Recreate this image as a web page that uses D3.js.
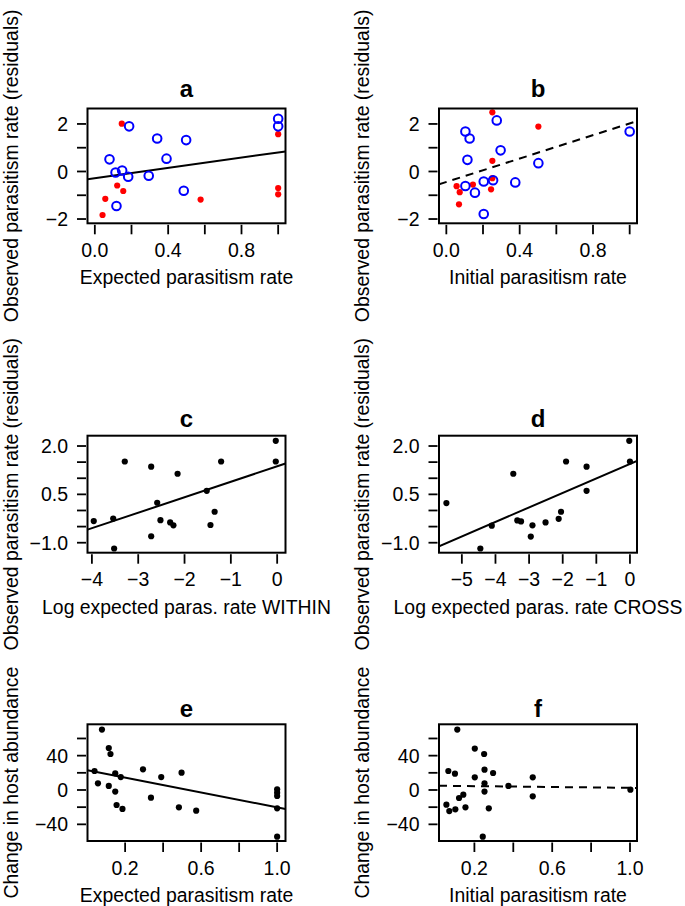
<!DOCTYPE html>
<html>
<head>
<meta charset="utf-8">
<script src="https://cdn.jsdelivr.net/npm/d3@7"></script>
<style>
  html, body { margin: 0; padding: 0; background: #fff; }
  svg { display: block; }
  text { font-family: "Liberation Sans", Arial, Helvetica, sans-serif; fill: #000; }
</style>
</head>
<body>
<svg id="chart" width="685" height="906"></svg>
<script>
// ---------------- DATA ----------------
// Panel a: Expected parasitism rate vs observed parasitism residuals
const aRedX  = [0.147, 1.0, 0.122, 0.155, 0.057, 0.042, 0.577, 1.0, 1.0];
const aRedY  = [2.01, 1.57, -0.59, -0.82, -1.15, -1.83, -1.18, -0.70, -0.96];
const aBlueX = [0.187, 1.0, 1.0, 0.340, 0.498, 0.391, 0.080, 0.113, 0.149, 0.182, 0.294, 0.485, 0.118];
const aBlueY = [1.90, 2.22, 1.90, 1.39, 1.32, 0.54, 0.51, -0.04, 0.04, -0.22, -0.18, -0.81, -1.45];
const aLine  = [-0.28, 1.08];   // intercept, slope (solid)

// Panel b: Initial parasitism rate
const bRedX  = [0.251, 0.502, 0.251, 0.251, 0.244, 0.056, 0.073, 0.145, 0.069];
const bRedY  = [2.49, 1.89, 0.45, -0.28, -0.75, -0.62, -0.87, -0.55, -1.38];
const bBlueX = [0.104, 0.127, 0.275, 0.115, 0.296, 0.502, 1.0, 0.104, 0.156, 0.204, 0.255, 0.376, 0.204];
const bBlueY = [1.68, 1.39, 2.15, 0.49, 0.89, 0.35, 1.68, -0.61, -0.89, -0.42, -0.37, -0.46, -1.79];
const bLine  = [-0.44, 2.46];   // intercept, slope (dashed)

// Panel c: Log expected paras. rate WITHIN
const cX = [-3.96, -3.54, -3.52, -3.29, -2.72, -2.72, -2.59, -2.52, -2.31, -2.24, -2.15, -1.52, -1.44, -1.35, -1.21, -0.03, -0.03];
const cY = [-0.33, -0.25, -1.18, 1.52, 1.36, -0.80, 0.24, -0.30, -0.37, -0.46, 1.14, 0.61, -0.45, -0.04, 1.52, 2.16, 1.52];
const cLine = [1.37, 0.48];

// Panel d: Log expected paras. rate CROSS
const dX = [-5.46, -4.45, -4.11, -3.47, -3.35, -3.24, -2.90, -2.95, -2.51, -2.12, -2.05, -1.90, -1.29, -1.29, -0.02, 0.0];
const dY = [0.23, -1.18, -0.47, 1.14, -0.31, -0.34, -0.46, -0.81, -0.37, -0.26, -0.04, 1.52, 1.36, 0.61, 2.16, 1.52];
const dLine = [1.445, 0.45];

// Panel e: Expected parasitism rate vs change in host abundance
const eX = [0.078, 0.114, 0.123, 0.039, 0.057, 0.114, 0.148, 0.148, 0.177, 0.155, 0.186, 0.294, 0.390, 0.336, 0.497, 0.483, 0.574, 1.0, 1.0, 1.0, 1.0, 1.0];
const eY = [70.3, 48.9, 41.9, 22.1, 7.8, 4.7, 19.4, -1.9, 15.1, -17.5, -22.1, 24.1, 15.1, -8.9, 20.2, -20.2, -24.1, 0.8, -3.1, -7.0, -21.4, -54.4];
const eLine = [23.0, -43.2];

// Panel f: Initial parasitism rate vs change in host abundance
const fX = [0.112, 0.202, 0.250, 0.066, 0.100, 0.202, 0.252, 0.252, 0.296, 0.252, 0.375, 0.500, 0.500, 1.002, 0.056, 0.071, 0.102, 0.121, 0.143, 0.154, 0.274, 0.243];
const fY = [70.3, 48.2, 41.9, 22.1, 19.0, 14.8, 23.7, 7.8, 19.8, -1.9, 4.7, 14.8, -7.4, 0.4, -17.1, -24.5, -22.5, -9.3, -5.4, -20.2, -21.4, -54.4];
const fLine = [5.0, -2.5];

// Axis ticks and labels
const ticksResidA   = [-2, -1, 0, 1, 2];
const labelsResidA  = [-2, 0, 2];
const ticksRate     = [0, 0.2, 0.4, 0.6, 0.8, 1.0];
const labelsRate    = [0, 0.4, 0.8];
const ticksResidC   = [-1.0, -0.5, 0, 0.5, 1.0, 1.5, 2.0];
const labelsResidC  = [-1.0, 0.5, 2.0];
const ticksWithin   = [-4, -3, -2, -1, 0];
const ticksCross    = [-5, -4, -3, -2, -1, 0];
const ticksAbund    = [-40, -20, 0, 20, 40, 60];
const labelsAbund   = [-40, 0, 40];
const ticksRateE    = [0.2, 0.4, 0.6, 0.8, 1.0];
const labelsRateE   = [0.2, 0.6, 1.0];

const panelLetters = ["a", "b", "c", "d", "e", "f"];
const xTitles = ["Expected parasitism rate", "Initial parasitism rate",
                 "Log expected paras. rate WITHIN", "Log expected paras. rate CROSS",
                 "Expected parasitism rate", "Initial parasitism rate"];
const yTitleResid = "Observed parasitism rate (residuals)";
const yTitleAbund = "Change in host abundance";

// ---------------- DRAWING ----------------
const svg = d3.select("#chart");
const RED = "#ff0000", BLUE = "#0000ff";
const FS = 19.5, TITLE_FS = 24;
const minus = s => s.replace(/-/g, "\u2212");

const colLeft  = [87.5, 285.5];
const colRight = [439, 637];
const rows = [[108.5, 223.3, 96.5], [435.7, 552.7, 427], [724.3, 841, 716.5]];

function fmt1(v){ return minus(d3.format(".1f")(v)); }
function fmt0(v){ return minus(d3.format("d")(v)); }

const panels = [
  { col: colLeft,  row: rows[0], xd: [-0.04, 1.04], yd: [-2.18, 2.65],
    xt: ticksRate, xl: labelsRate, xf: fmt1, yt: ticksResidA, yl: labelsResidA, yf: fmt0,
    series: [{x: aRedX, y: aRedY, type: "red"}, {x: aBlueX, y: aBlueY, type: "blue"}],
    line: aLine, dashed: false, ytitle: yTitleResid },
  { col: colRight, row: rows[0], xd: [-0.04, 1.04], yd: [-2.18, 2.65],
    xt: ticksRate, xl: labelsRate, xf: fmt1, yt: ticksResidA, yl: labelsResidA, yf: fmt0,
    series: [{x: bRedX, y: bRedY, type: "red"}, {x: bBlueX, y: bBlueY, type: "blue"}],
    line: bLine, dashed: true, ytitle: yTitleResid },
  { col: colLeft,  row: rows[1], xd: [-4.095, 0.18], yd: [-1.31, 2.32],
    xt: ticksWithin, xl: ticksWithin, xf: fmt0, yt: ticksResidC, yl: labelsResidC, yf: fmt1,
    series: [{x: cX, y: cY, type: "black"}], line: cLine, dashed: false, ytitle: yTitleResid },
  { col: colRight, row: rows[1], xd: [-5.68, 0.21], yd: [-1.31, 2.32],
    xt: ticksCross, xl: ticksCross, xf: fmt0, yt: ticksResidC, yl: labelsResidC, yf: fmt1,
    series: [{x: dX, y: dY, type: "black"}], line: dLine, dashed: false, ytitle: yTitleResid },
  { col: colLeft,  row: rows[2], xd: [0.002, 1.044], yd: [-59.4, 76.5],
    xt: ticksRateE, xl: labelsRateE, xf: fmt1, yt: ticksAbund, yl: labelsAbund, yf: fmt0,
    series: [{x: eX, y: eY, type: "black"}], line: eLine, dashed: false, ytitle: yTitleAbund },
  { col: colRight, row: rows[2], xd: [0.018, 1.036], yd: [-59.4, 76.5],
    xt: ticksRateE, xl: labelsRateE, xf: fmt1, yt: ticksAbund, yl: labelsAbund, yf: fmt0,
    series: [{x: fX, y: fY, type: "black"}], line: fLine, dashed: true, ytitle: yTitleAbund }
];

panels.forEach((p, i) => {
  const [x0, x1] = p.col;
  const [y0, y1, titleY] = p.row;
  const xs = d3.scaleLinear().domain(p.xd).range([x0, x1]);
  const ys = d3.scaleLinear().domain(p.yd).range([y1, y0]);
  const g = svg.append("g");
  const clipId = "clip" + i;
  g.append("clipPath").attr("id", clipId).append("rect")
    .attr("x", x0).attr("y", y0).attr("width", x1 - x0).attr("height", y1 - y0);

  // regression line
  const lx = p.xd;
  g.append("line")
    .attr("clip-path", `url(#${clipId})`)
    .attr("x1", xs(lx[0])).attr("y1", ys(p.line[0] + p.line[1] * lx[0]))
    .attr("x2", xs(lx[1])).attr("y2", ys(p.line[0] + p.line[1] * lx[1]))
    .attr("stroke", "#000").attr("stroke-width", 2)
    .attr("stroke-dasharray", p.dashed ? "8,6" : null);

  // points
  p.series.forEach(s => {
    const pts = s.x.map((v, k) => [v, s.y[k]]);
    const sel = g.append("g").selectAll("circle").data(pts).join("circle")
      .attr("cx", d => xs(d[0])).attr("cy", d => ys(d[1]));
    if (s.type === "blue") {
      sel.attr("r", 4.3).attr("fill", "none").attr("stroke", BLUE).attr("stroke-width", 2);
    } else if (s.type === "red") {
      sel.attr("r", 3.1).attr("fill", RED);
    } else {
      sel.attr("r", 3.1).attr("fill", "#000");
    }
  });

  // box
  g.append("rect").attr("x", x0).attr("y", y0).attr("width", x1 - x0).attr("height", y1 - y0)
    .attr("fill", "none").attr("stroke", "#000").attr("stroke-width", 2);

  // x axis ticks
  g.append("g").selectAll("line").data(p.xt).join("line")
    .attr("x1", d => xs(d)).attr("x2", d => xs(d))
    .attr("y1", y1 + 1.5).attr("y2", y1 + 11)
    .attr("stroke", "#000").attr("stroke-width", 1.8);
  g.append("g").selectAll("text").data(p.xl).join("text")
    .attr("x", d => xs(d)).attr("y", y1 + 33.5)
    .attr("text-anchor", "middle").attr("font-size", FS)
    .text(d => p.xf(d));

  // y axis ticks
  g.append("g").selectAll("line").data(p.yt).join("line")
    .attr("y1", d => ys(d)).attr("y2", d => ys(d))
    .attr("x1", x0 - 1.5).attr("x2", x0 - 10.5)
    .attr("stroke", "#000").attr("stroke-width", 1.8);
  g.append("g").selectAll("text").data(p.yl).join("text")
    .attr("x", x0 - 19.5).attr("y", d => ys(d))
    .attr("dy", "0.36em")
    .attr("text-anchor", "end").attr("font-size", FS)
    .text(d => p.yf(d));

  // panel letter
  g.append("text").attr("x", (x0 + x1) / 2).attr("y", titleY)
    .attr("text-anchor", "middle").attr("font-size", TITLE_FS).attr("font-weight", "bold")
    .text(panelLetters[i]);

  // x title
  g.append("text").attr("x", (x0 + x1) / 2).attr("y", y1 + 61)
    .attr("text-anchor", "middle").attr("font-size", 19.4)
    .text(xTitles[i]);

  // y title
  const tx = x0 - 70, ty = (y0 + y1) / 2;
  g.append("text").attr("transform", `translate(${tx},${ty}) rotate(-90)`)
    .attr("text-anchor", "middle").attr("font-size", 19.4)
    .text(p.ytitle);
});
</script>
</body>
</html>
